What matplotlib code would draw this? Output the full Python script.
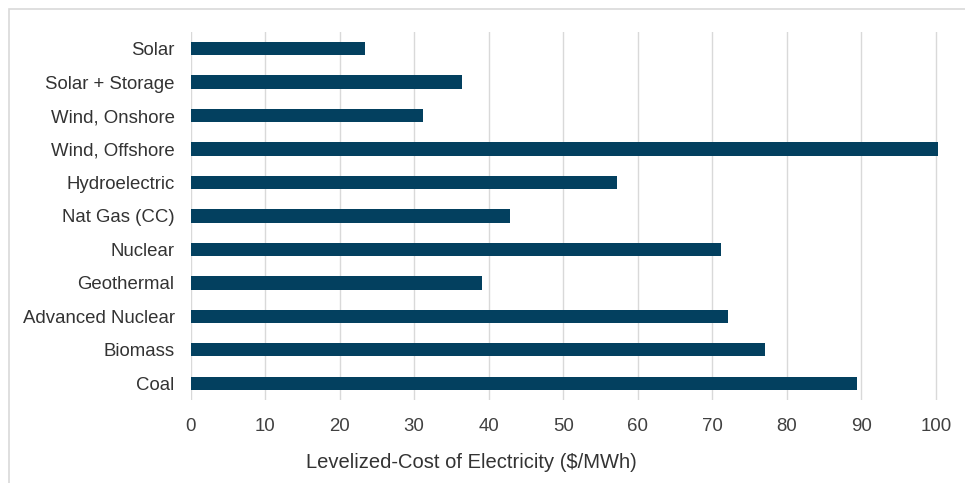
import numpy as np
import matplotlib
matplotlib.use("Agg")
import matplotlib.pyplot as plt
from matplotlib.patches import Rectangle

plt.rcParams['font.family'] = ['Liberation Sans', 'DejaVu Sans']

sources = ["Solar", "Solar + Storage", "Wind, Onshore", "Wind, Offshore",
           "Hydroelectric", "Nat Gas (CC)", "Nuclear", "Geothermal",
           "Advanced Nuclear", "Biomass", "Coal"]
lcoe = [23.4, 36.4, 31.2, 100.3, 57.2, 42.8, 71.1, 39.1, 72.1, 77.1, 89.4]
ticks = [0, 10, 20, 30, 40, 50, 60, 70, 80, 90, 100]

fig = plt.figure(figsize=(9.65, 4.83), dpi=100)
ax = fig.add_axes([190.5/965, 0.172, 748.5/965, 0.762])

# light frame, only left and top edges fall inside the picture
top = 1 - 9/483
fig.patches.append(Rectangle((8.5/965, -0.1), 1.2, top + 0.1, transform=fig.transFigure,
                             fill=False, edgecolor='#d9d9d9', linewidth=1.2))

y = np.arange(len(sources))
ax.barh(y, lcoe, height=0.4, color='#03405f', zorder=3)

ax.set_ylim(len(sources) - 0.5, -0.5)
ax.set_xlim(0, 100.4)
ax.set_xticks(ticks)
ax.set_yticks(y)
ax.set_yticklabels(sources, fontsize=13.4, color='#333333')
ax.tick_params(axis='x', labelsize=13.4, colors='#404040', length=0, pad=13)
ax.tick_params(axis='y', length=0, pad=11.5)
ax.grid(axis='x', color='#d9d9d9', linewidth=1, zorder=0)
for s in ax.spines.values():
    s.set_visible(False)

fig.text(471/965, 1 - 462/483, "Levelized-Cost of Electricity ($/MWh)",
         fontsize=14.5, color='#333333', ha='center', va='center')

fig.savefig("out.png", dpi=100)
